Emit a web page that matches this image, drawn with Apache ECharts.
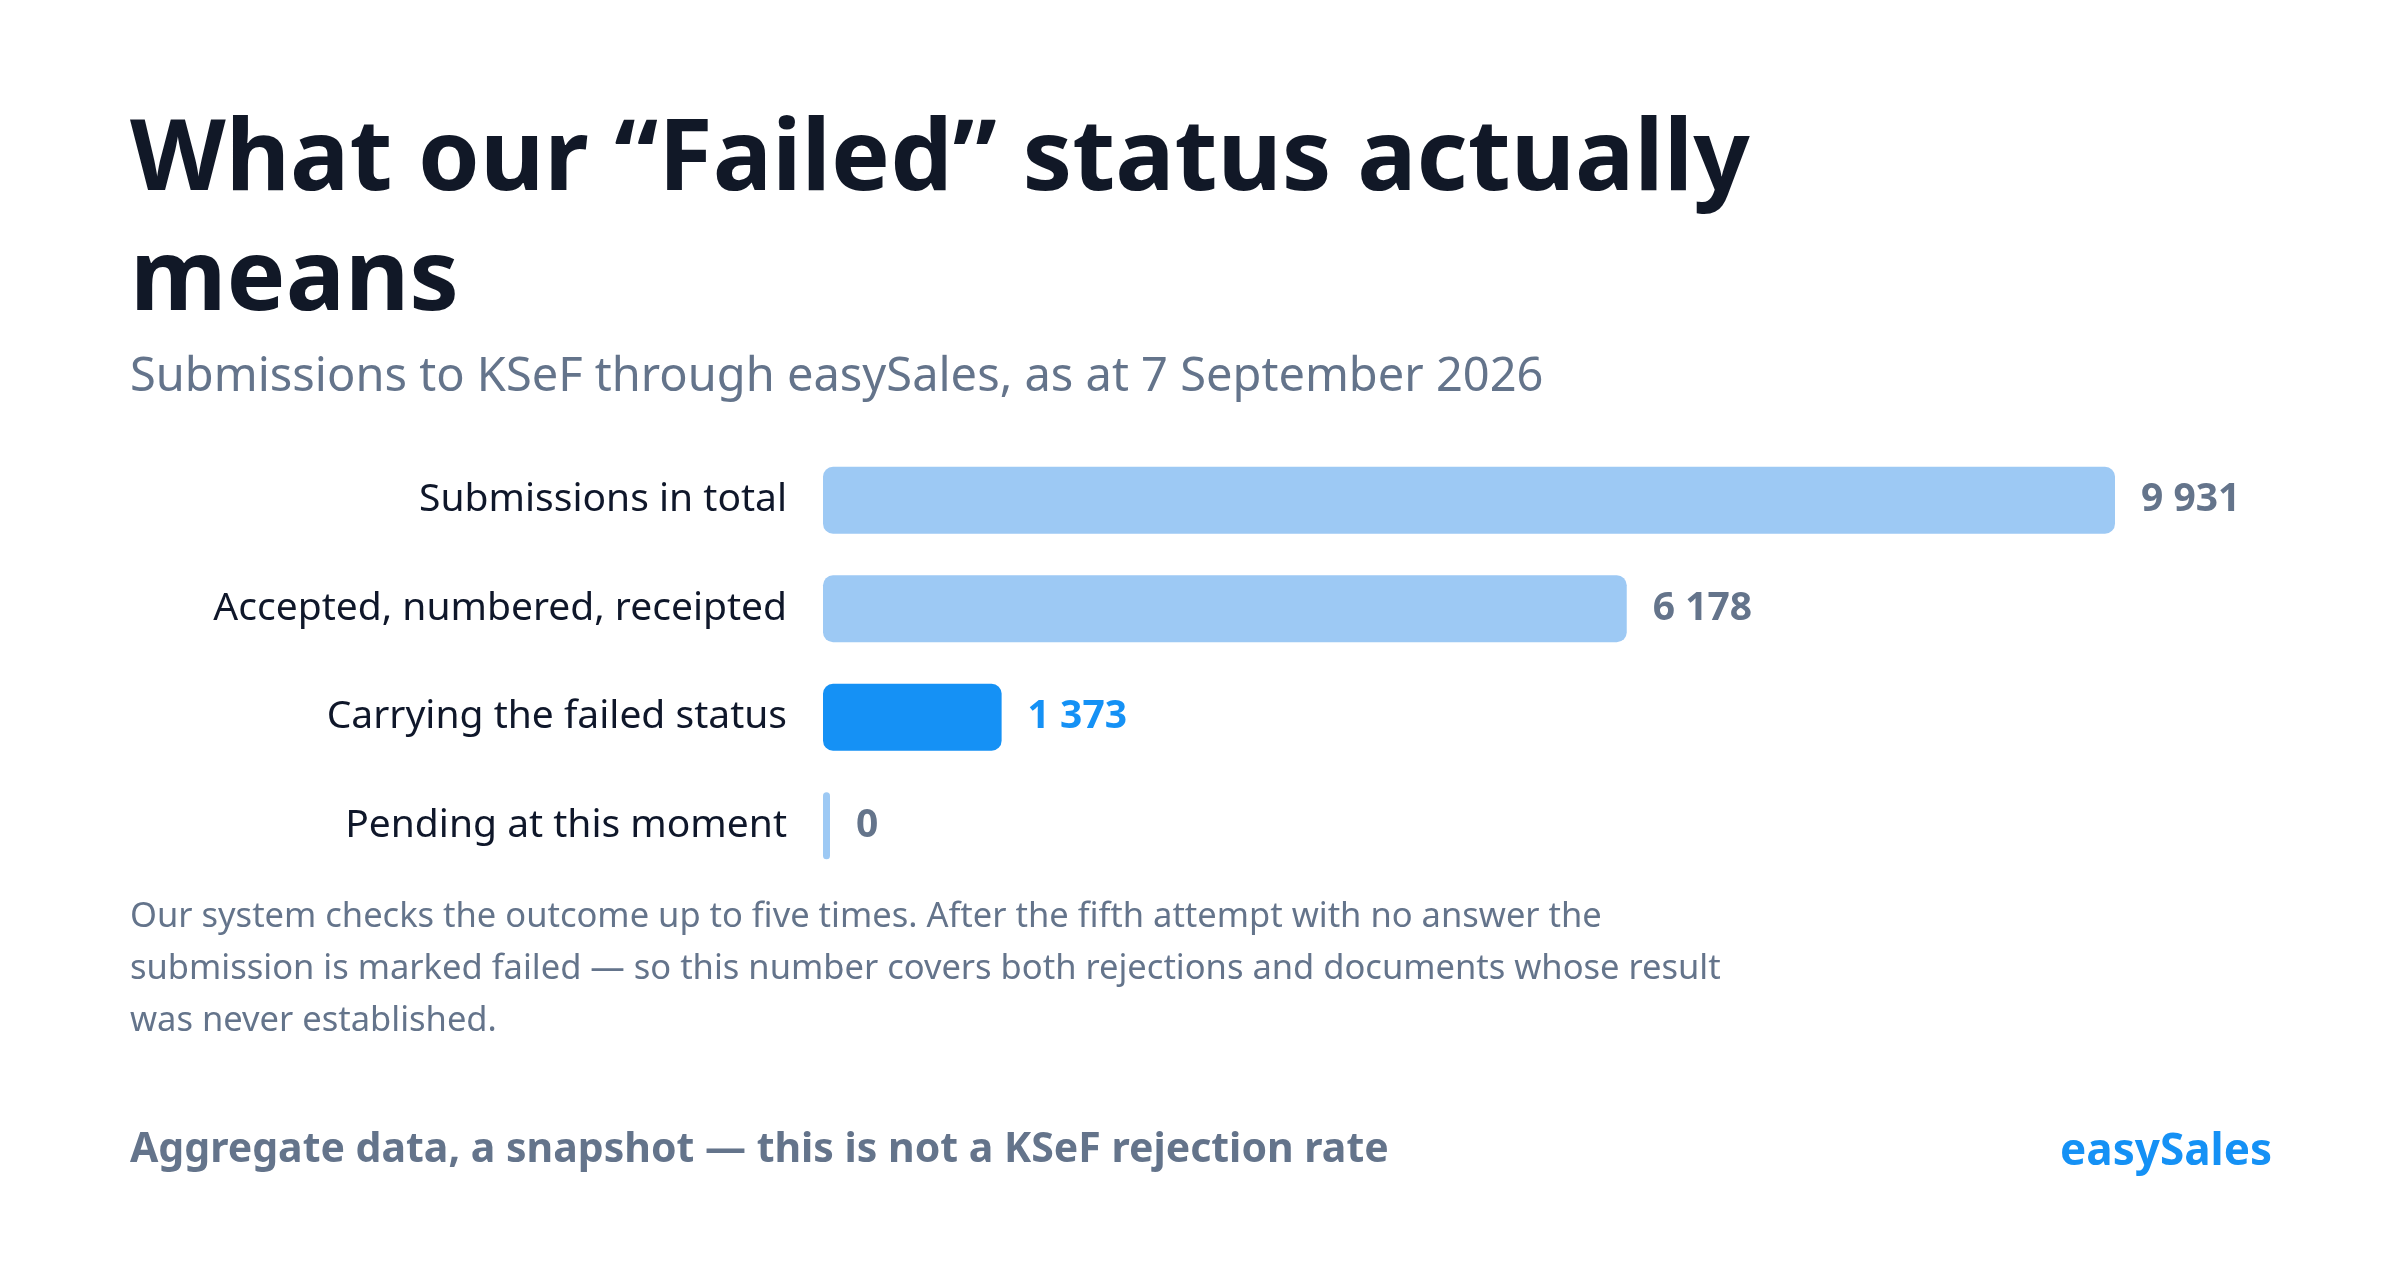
<!DOCTYPE html>
<html>
<head>
<meta charset="utf-8">
<script src="https://cdn.jsdelivr.net/npm/echarts@6/dist/echarts.min.js"></script>
<style>
  html, body { margin: 0; padding: 0; background: #fff; }
  #chart { width: 2400px; height: 1276px; }
</style>
</head>
<body>
<div id="chart"></div>
<script>
// data
let categories = ['Submissions in total', 'Accepted, numbered, receipted', 'Carrying the failed status', 'Pending at this moment'];
let values = [9931, 6178, 1373, 0];
let highlight = [false, false, true, false];

let font = '"Noto Sans", sans-serif';
let grey = '#64748b';
let blue = '#1591f5';
let light = '#9dc9f4';

function fmt(v) {
    return String(v).replace(/\B(?=(\d{3})+(?!\d))/g, ' ');
}

let chart = echarts.init(document.getElementById('chart'));

let option = {
    backgroundColor: '#ffffff',
    animation: false,
    grid: { left: 823, right: 285, top: 446, height: 434 },
    xAxis: {
        type: 'value', min: 0, max: 9931,
        show: false
    },
    yAxis: {
        type: 'category',
        inverse: true,
        data: categories,
        axisLine: { show: false },
        axisTick: { show: false },
        axisLabel: { color: '#0f172a', fontSize: 39, fontFamily: font, margin: 36 }
    },
    series: [{
        type: 'bar',
        barWidth: 67,
        barMinHeight: 7,
        data: values.map((v, i) => ({
            value: v,
            itemStyle: { color: highlight[i] ? blue : light, borderRadius: 10 },
            label: { color: highlight[i] ? blue : grey }
        })),
        label: {
            show: true, position: 'right', distance: 26,
            fontSize: 39, fontWeight: 'bold', fontFamily: font,
            formatter: p => fmt(p.value)
        }
    }],
    graphic: [
        { type: 'text', left: 130, top: 102, style: { text: 'What our \u201cFailed\u201d status actually\nmeans', font: 'bold 99px ' + font, fill: '#111827', lineHeight: 120 } },
        { type: 'text', left: 130, top: 354, style: { text: 'Submissions to KSeF through easySales, as at 7 September 2026', font: '47px ' + font, fill: grey } },
        { type: 'text', left: 130, top: 891, style: { text: 'Our system checks the outcome up to five times. After the fifth attempt with no answer the\nsubmission is marked failed \u2014 so this number covers both rejections and documents whose result\nwas never established.', font: '34.5px ' + font, fill: grey, lineHeight: 52 } },
        { type: 'text', left: 130, top: 1130, style: { text: 'Aggregate data, a snapshot \u2014 this is not a KSeF rejection rate', font: 'bold 41px ' + font, fill: grey } },
        { type: 'text', right: 128, top: 1130, style: { text: 'easySales', font: 'bold 44px ' + font, fill: blue } }
    ]
};

chart.setOption(option);
</script>
</body>
</html>
